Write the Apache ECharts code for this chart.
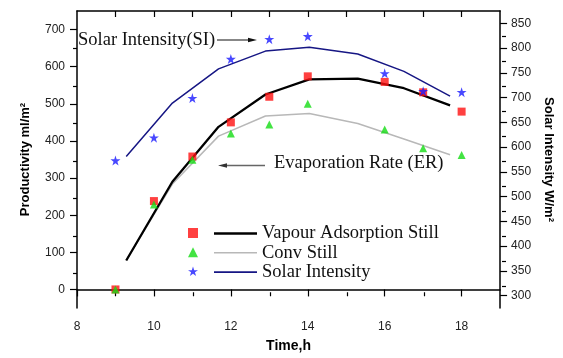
<!DOCTYPE html>
<html><head><meta charset="utf-8">
<script src="https://cdn.jsdelivr.net/npm/echarts@6/dist/echarts.min.js"></script>
<style>html,body{margin:0;padding:0;background:#fff}#c{width:563px;height:358px}</style>
</head><body><div id="c"></div>
<script>
// measured scatter points
var ptHours = [9, 10, 11, 12, 13, 14, 16, 17, 18];
var vaPts = [0, 238, 358, 450, 519, 574, 559, 531, 479];
var convPts = [0, 229, 349, 420, 444, 500, 431, 380, 362];
var siPts = [573, 619, 699, 778, 818, 824, 749, 713, 711];
// fitted curves (knots)
var lineHours = [9.28, 10.48, 11.68, 12.9, 14.04, 15.3, 16.5, 17.7];
var vaLine = [78, 290, 438, 525, 566, 568, 542, 496];
var convLine = [78, 284, 413, 467, 474, 447, 405, 363];
var siLine = [581, 689, 758, 794, 802, 788, 753, 703];
// ticks
var xLabels = [8, 10, 12, 14, 16, 18];
var xMinor = [9, 11, 13, 15, 17];
var xTop = [9, 10, 11, 12, 13, 14, 15, 16, 17, 18];
var leftLabels = [0, 100, 200, 300, 400, 500, 600, 700];
var leftMinor = [50, 150, 250, 350, 450, 550, 650];
var rightLabels = [300, 350, 400, 450, 500, 550, 600, 650, 700, 750, 800, 850];
var rightMinor = [325, 375, 425, 475, 525, 575, 625, 675, 725, 775, 825];

function zip(a, b) { return a.map(function (v, i) { return [v, b[i]]; }); }

var sans = 'Liberation Sans';
var serif = 'Liberation Serif';
var gridPos = { left: 77, right: 61, top: 11, bottom: 47 };
var lab = { color: '#222', fontFamily: sans, fontSize: 12 };

var chart = echarts.init(document.getElementById('c'), null, { renderer: 'canvas' });
chart.setOption({
  animation: false,
  backgroundColor: '#fff',
  grid: [Object.assign({}, gridPos), Object.assign({}, gridPos)],
  xAxis: [
    { gridIndex: 0, type: 'value', position: 'bottom', min: 8, max: 19, interval: 1,
      name: 'Time,h', nameLocation: 'middle', nameGap: 31,
      nameTextStyle: { fontFamily: sans, fontWeight: 'bold', fontSize: 14, color: '#000' },
      axisLine: { lineStyle: { color: '#000', width: 1.5 } },
      axisTick: { customValues: xLabels, length: 7, lineStyle: { color: '#000', width: 1.2 } },
      axisLabel: Object.assign({ customValues: xLabels, margin: 13 }, lab),
      splitLine: { show: false } },
    { gridIndex: 0, type: 'value', position: 'top', min: 8, max: 19, interval: 1,
      axisLine: { lineStyle: { color: '#000', width: 1.5 } },
      axisTick: { inside: true, customValues: xTop, length: 6, lineStyle: { color: '#000', width: 1.2 } },
      axisLabel: { show: false }, splitLine: { show: false } },
    { gridIndex: 1, type: 'value', position: 'bottom', min: 8, max: 19, interval: 1,
      axisLine: { show: false },
      axisTick: { customValues: xMinor, length: 4, lineStyle: { color: '#000', width: 1.2 } },
      axisLabel: { show: false }, splitLine: { show: false } }
  ],
  yAxis: [
    { gridIndex: 0, type: 'value', position: 'left', min: -50, max: 750, interval: 50,
      name: 'Productivity ml/m²', nameLocation: 'middle', nameGap: 45, nameRotate: 90,
      nameTextStyle: { fontFamily: sans, fontWeight: 'bold', fontSize: 13, color: '#000' },
      axisLine: { show: true, lineStyle: { color: '#000', width: 1.5 } },
      axisTick: { show: true, customValues: leftLabels, length: 7, lineStyle: { color: '#000', width: 1.2 } },
      axisLabel: Object.assign({ customValues: leftLabels, margin: 12 }, lab),
      splitLine: { show: false } },
    { gridIndex: 0, type: 'value', position: 'right', min: 275, max: 875, interval: 25,
      name: 'Solar Intensity W/m²', nameLocation: 'middle', nameGap: 41, nameRotate: -90,
      nameTextStyle: { fontFamily: sans, fontWeight: 'bold', fontSize: 13, color: '#000' },
      axisLine: { show: true, lineStyle: { color: '#000', width: 1.5 } },
      axisTick: { show: true, customValues: rightLabels, length: 7, lineStyle: { color: '#000', width: 1.2 } },
      axisLabel: Object.assign({ customValues: rightLabels, margin: 11 }, lab),
      splitLine: { show: false } },
    { gridIndex: 1, type: 'value', position: 'left', min: -50, max: 750, interval: 50,
      axisLine: { show: false },
      axisTick: { show: true, customValues: leftMinor, length: 4, lineStyle: { color: '#000', width: 1.2 } },
      axisLabel: { show: false }, splitLine: { show: false } },
    { gridIndex: 1, type: 'value', position: 'right', min: 275, max: 875, interval: 25,
      axisLine: { show: false },
      axisTick: { show: true, customValues: rightMinor, length: 4, lineStyle: { color: '#000', width: 1.2 } },
      axisLabel: { show: false }, splitLine: { show: false } }
  ],
  legend: [
    { data: ['va_pts', 'conv_pts', 'si_pts'], orient: 'vertical', left: 183, top: 223,
      itemWidth: 10, itemHeight: 10, itemGap: 9.3, formatter: function () { return ''; },
      textStyle: { fontSize: 1, lineHeight: 1 }, selectedMode: false },
    { data: [
        { name: 'Vapour Adsorption Still', icon: 'path://M0,0h43v2.4h-43z' },
        { name: 'Conv Still', icon: 'path://M0,0h43v1.4h-43z' },
        { name: 'Solar Intensity', icon: 'path://M0,0h43v1.6h-43z' }
      ], orient: 'vertical', symbolKeepAspect: true,
      left: 209, top: 219, itemWidth: 43, itemHeight: 14, itemGap: 0.3, selectedMode: false,
      textStyle: { fontFamily: serif, fontSize: 18.5, lineHeight: 19, color: '#111' } }
  ],
  series: [
    { name: 'Vapour Adsorption Still', type: 'line', xAxisIndex: 0, yAxisIndex: 0,
      data: zip(lineHours, vaLine), symbol: 'none', color: '#000',
      lineStyle: { color: '#000', width: 2.3 }, z: 3 },
    { name: 'Conv Still', type: 'line', xAxisIndex: 0, yAxisIndex: 0,
      data: zip(lineHours, convLine), symbol: 'none', color: '#b8b8b8',
      lineStyle: { color: '#b8b8b8', width: 1.5 }, z: 2 },
    { name: 'Solar Intensity', type: 'line', xAxisIndex: 0, yAxisIndex: 1,
      data: zip(lineHours, siLine), symbol: 'none', color: '#161684',
      lineStyle: { color: '#161684', width: 1.5 }, z: 2 },
    { name: 'va_pts', type: 'scatter', xAxisIndex: 0, yAxisIndex: 0,
      data: zip(ptHours, vaPts), symbol: 'rect', symbolSize: 8,
      itemStyle: { color: '#ff1010' }, z: 4 },
    { name: 'conv_pts', type: 'scatter', xAxisIndex: 0, yAxisIndex: 0,
      data: zip(ptHours, convPts), symbol: 'triangle', symbolSize: 8,
      itemStyle: { color: '#14dc14' }, z: 5 },
    { name: 'si_pts', type: 'scatter', xAxisIndex: 0, yAxisIndex: 1,
      data: zip(ptHours, siPts),
      symbol: 'path://M50,0 L61.8,35.4 L100,35.4 L69.1,57.3 L80.9,93.1 L50,71.2 L19.1,93.1 L30.9,57.3 L0,35.4 L38.2,35.4 Z',
      symbolSize: 10, itemStyle: { color: '#1a1aff' }, z: 4 }
  ],
  graphic: [
    { type: 'text', left: 78, top: 31, z: 10,
      style: { text: 'Solar Intensity(SI)', fontFamily: serif, fontSize: 18.5, fill: '#111' } },
    { type: 'line', z: 10, shape: { x1: 217, y1: 40, x2: 251, y2: 40 }, style: { stroke: '#111', lineWidth: 1.2 } },
    { type: 'polygon', z: 10, shape: { points: [[257, 40], [248, 37.8], [248, 42.2]] }, style: { fill: '#111' } },
    { type: 'text', left: 274, top: 154, z: 10,
      style: { text: 'Evaporation Rate (ER)', fontFamily: serif, fontSize: 18.5, fill: '#111' } },
    { type: 'line', z: 10, shape: { x1: 265, y1: 165.5, x2: 224, y2: 165.5 }, style: { stroke: '#666', lineWidth: 1.4 } },
    { type: 'polygon', z: 10, shape: { points: [[218, 165.5], [227, 163.3], [227, 167.7]] }, style: { fill: '#333' } }
  ]
});
</script></body></html>
